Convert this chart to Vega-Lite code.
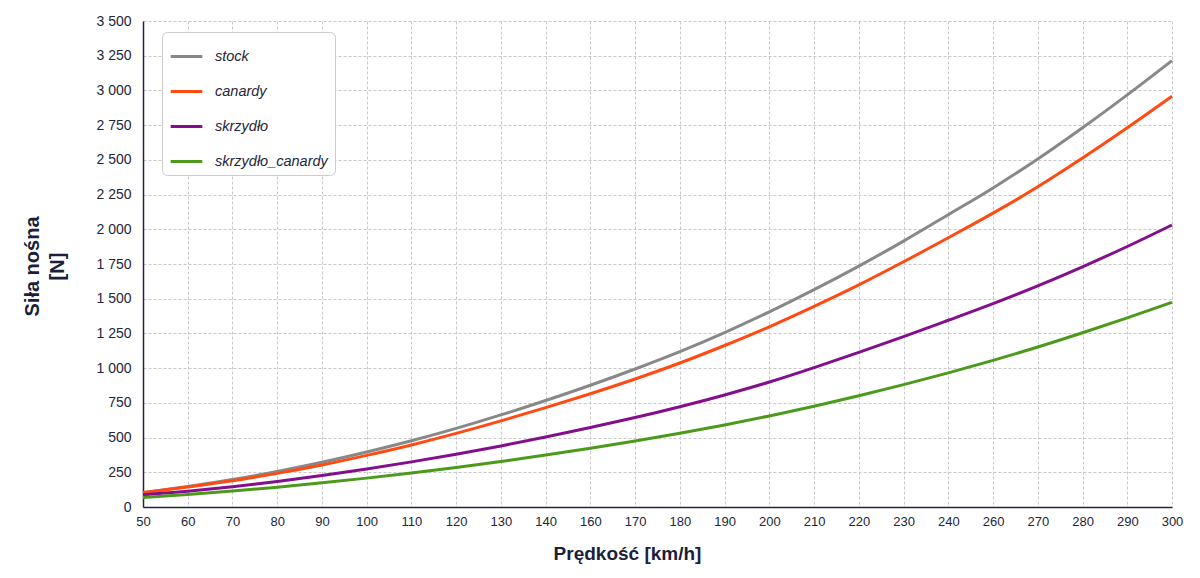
{
  "$schema": "https://vega.github.io/schema/vega-lite/v6.json",
  "width": 1029,
  "height": 486,
  "autosize": {"type": "none"},
  "padding": {"left": 143, "top": 21, "right": 28, "bottom": 71},
  "background": "white",
  "config": {"view": {"stroke": null}, "font": "Liberation Sans"},
  "data": {"values": [
    {"v":50,"s":"stock","y":103},{"v":60,"s":"stock","y":148},{"v":70,"s":"stock","y":198},{"v":80,"s":"stock","y":256},{"v":90,"s":"stock","y":322},{"v":100,"s":"stock","y":396},{"v":110,"s":"stock","y":477},{"v":120,"s":"stock","y":566},{"v":130,"s":"stock","y":663},{"v":140,"s":"stock","y":767},{"v":160,"s":"stock","y":877},{"v":170,"s":"stock","y":994},{"v":180,"s":"stock","y":1119},{"v":190,"s":"stock","y":1256},{"v":200,"s":"stock","y":1405},{"v":210,"s":"stock","y":1565},{"v":220,"s":"stock","y":1735},{"v":230,"s":"stock","y":1915},{"v":240,"s":"stock","y":2105},{"v":260,"s":"stock","y":2298},{"v":270,"s":"stock","y":2506},{"v":280,"s":"stock","y":2731},{"v":290,"s":"stock","y":2968},{"v":300,"s":"stock","y":3215},
    {"v":50,"s":"canardy","y":104},{"v":60,"s":"canardy","y":144},{"v":70,"s":"canardy","y":189},{"v":80,"s":"canardy","y":242},{"v":90,"s":"canardy","y":303},{"v":100,"s":"canardy","y":372},{"v":110,"s":"canardy","y":447},{"v":120,"s":"canardy","y":530},{"v":130,"s":"canardy","y":620},{"v":140,"s":"canardy","y":716},{"v":160,"s":"canardy","y":816},{"v":170,"s":"canardy","y":922},{"v":180,"s":"canardy","y":1037},{"v":190,"s":"canardy","y":1163},{"v":200,"s":"canardy","y":1298},{"v":210,"s":"canardy","y":1445},{"v":220,"s":"canardy","y":1600},{"v":230,"s":"canardy","y":1766},{"v":240,"s":"canardy","y":1939},{"v":260,"s":"canardy","y":2116},{"v":270,"s":"canardy","y":2306},{"v":280,"s":"canardy","y":2513},{"v":290,"s":"canardy","y":2731},{"v":300,"s":"canardy","y":2958},
    {"v":50,"s":"skrzydło","y":88},{"v":60,"s":"skrzydło","y":114},{"v":70,"s":"skrzydło","y":146},{"v":80,"s":"skrzydło","y":184},{"v":90,"s":"skrzydło","y":227},{"v":100,"s":"skrzydło","y":274},{"v":110,"s":"skrzydło","y":325},{"v":120,"s":"skrzydło","y":380},{"v":130,"s":"skrzydło","y":440},{"v":140,"s":"skrzydło","y":504},{"v":160,"s":"skrzydło","y":572},{"v":170,"s":"skrzydło","y":644},{"v":180,"s":"skrzydło","y":722},{"v":190,"s":"skrzydło","y":807},{"v":200,"s":"skrzydło","y":900},{"v":210,"s":"skrzydło","y":1004},{"v":220,"s":"skrzydło","y":1114},{"v":230,"s":"skrzydło","y":1227},{"v":240,"s":"skrzydło","y":1345},{"v":260,"s":"skrzydło","y":1465},{"v":270,"s":"skrzydło","y":1593},{"v":280,"s":"skrzydło","y":1730},{"v":290,"s":"skrzydło","y":1876},{"v":300,"s":"skrzydło","y":2031},
    {"v":50,"s":"skrzydło_canardy","y":69},{"v":60,"s":"skrzydło_canardy","y":90},{"v":70,"s":"skrzydło_canardy","y":115},{"v":80,"s":"skrzydło_canardy","y":143},{"v":90,"s":"skrzydło_canardy","y":174},{"v":100,"s":"skrzydło_canardy","y":208},{"v":110,"s":"skrzydło_canardy","y":245},{"v":120,"s":"skrzydło_canardy","y":285},{"v":130,"s":"skrzydło_canardy","y":328},{"v":140,"s":"skrzydło_canardy","y":374},{"v":160,"s":"skrzydło_canardy","y":423},{"v":170,"s":"skrzydło_canardy","y":475},{"v":180,"s":"skrzydło_canardy","y":531},{"v":190,"s":"skrzydło_canardy","y":591},{"v":200,"s":"skrzydło_canardy","y":656},{"v":210,"s":"skrzydło_canardy","y":726},{"v":220,"s":"skrzydło_canardy","y":801},{"v":230,"s":"skrzydło_canardy","y":881},{"v":240,"s":"skrzydło_canardy","y":966},{"v":260,"s":"skrzydło_canardy","y":1056},{"v":270,"s":"skrzydło_canardy","y":1152},{"v":280,"s":"skrzydło_canardy","y":1255},{"v":290,"s":"skrzydło_canardy","y":1362},{"v":300,"s":"skrzydło_canardy","y":1474}
  ]},
  "mark": {"type": "line", "strokeWidth": 3, "interpolate": "monotone"},
  "encoding": {
    "x": {
      "field": "v", "type": "ordinal", "sort": "ascending",
      "scale": {"type": "point", "padding": 0},
      "axis": {
        "title": "Prędkość [km/h]", "labelAngle": 0, "ticks": false, "labelPadding": 8,
        "labelFontSize": 13, "labelColor": "#23263b",
        "domainColor": "#23263b", "domainWidth": 1.5,
        "grid": true, "gridDash": [3, 2], "gridColor": "#c8c8c8", "gridWidth": 1,
        "titleFontSize": 19, "titleFontWeight": "bold", "titleColor": "#1b1f3b",
        "titleX": 484, "titleY": 52, "titleBaseline": "alphabetic", "titleAlign": "center"
      }
    },
    "y": {
      "field": "y", "type": "quantitative",
      "scale": {"domain": [0, 3500], "nice": false},
      "axis": {
        "values": [0,250,500,750,1000,1250,1500,1750,2000,2250,2500,2750,3000,3250,3500],
        "labelExpr": "replace(format(datum.value, ','), ',', ' ')",
        "ticks": false, "labelPadding": 12, "labelFontSize": 14, "labelColor": "#23263b",
        "domainColor": "#23263b", "domainWidth": 1.5,
        "grid": true, "gridDash": [3, 2], "gridColor": "#c8c8c8", "gridWidth": 1,
        "title": ["Siła nośna", "[N]"], "titleFontSize": 20, "titleFontWeight": "bold", "titleColor": "#1b1f3b",
        "titleLineHeight": 25, "titleAngle": -90, "titleX": -105, "titleY": 245,
        "titleBaseline": "alphabetic", "titleAlign": "center"
      }
    },
    "color": {
      "field": "s", "type": "nominal",
      "scale": {"domain": ["stock", "canardy", "skrzydło", "skrzydło_canardy"], "range": ["#888888", "#ff4a12", "#840f8c", "#4c9a1c"]},
      "legend": {
        "title": null, "orient": "none", "legendX": 19, "legendY": 11,
        "symbolType": "stroke", "symbolSize": 1000, "symbolStrokeWidth": 3,
        "labelFontSize": 14.5, "labelFontStyle": "italic", "labelColor": "#23263b", "labelOffset": 11,
        "rowPadding": 11, "padding": 7,
        "fillColor": "white", "strokeColor": "#cccccc", "cornerRadius": 5
      }
    }
  }
}
